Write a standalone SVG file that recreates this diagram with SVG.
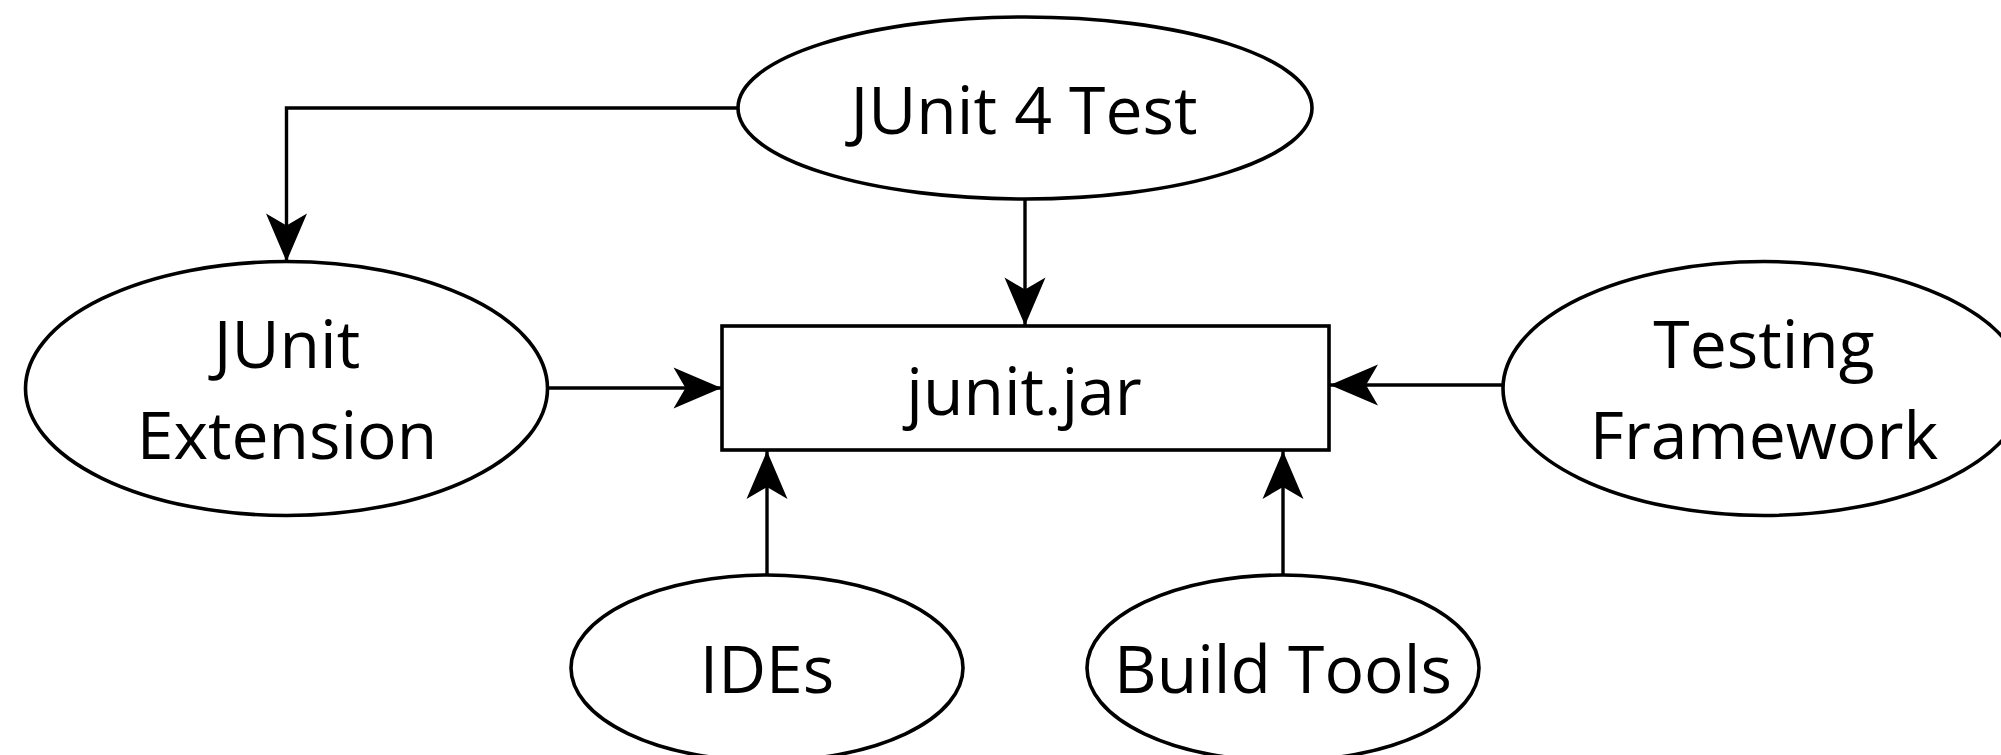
<svg xmlns="http://www.w3.org/2000/svg" width="2001" height="755" viewBox="0 0 2001 755">
<style>
.shape{fill:#ffffff;stroke:#000000;stroke-width:3.6}
.lbl{font-family:"Open Sans","Noto Sans",sans-serif;font-size:66px;fill:#000000;text-anchor:middle}
.edge{fill:none;stroke:#000000;stroke-width:3.4}
</style>
<defs>
<marker id="arr" markerUnits="userSpaceOnUse" markerWidth="52" markerHeight="46" viewBox="-50 -23 52 46" refX="0" refY="0" orient="auto">
<path d="M0,0 L-48,-20.5 L-36,0 L-48,20.5 Z" fill="#000000"/>
</marker>
</defs>
<rect width="2001" height="755" fill="#ffffff"/>
<g id="connectors">
<path class="edge" d="M738,108 L286.5,108 L286.5,261.5" marker-end="url(#arr)"/>
<path class="edge" d="M1025,199 L1025,325.5" marker-end="url(#arr)"/>
<path class="edge" d="M547.5,388 L721.5,388" marker-end="url(#arr)"/>
<path class="edge" d="M1503,385 L1330,385" marker-end="url(#arr)"/>
<path class="edge" d="M767,575 L767,451" marker-end="url(#arr)"/>
<path class="edge" d="M1283,575 L1283,451" marker-end="url(#arr)"/>
</g>
<g id="junit4test">
<ellipse class="shape" cx="1025" cy="108" rx="287" ry="91"/>
<text class="lbl" x="1024" y="134">JUnit 4 Test</text>
</g>
<g id="junitext">
<ellipse class="shape" cx="286.5" cy="388.5" rx="261" ry="127"/>
<text class="lbl" x="287" y="368">JUnit</text>
<text class="lbl" x="287" y="459">Extension</text>
</g>
<g id="junitjar">
<rect class="shape" x="722" y="326" width="607" height="124"/>
<text class="lbl" x="1024" y="415">junit.jar</text>
</g>
<g id="testingfw">
<ellipse class="shape" cx="1764" cy="388.5" rx="261" ry="127"/>
<text class="lbl" x="1764" y="368">Testing</text>
<text class="lbl" x="1764" y="459">Framework</text>
</g>
<g id="ides">
<ellipse class="shape" cx="767" cy="668" rx="196" ry="93"/>
<text class="lbl" x="767" y="693">IDEs</text>
</g>
<g id="buildtools">
<ellipse class="shape" cx="1283" cy="668" rx="196" ry="93"/>
<text class="lbl" x="1283" y="693">Build Tools</text>
</g>
</svg>
